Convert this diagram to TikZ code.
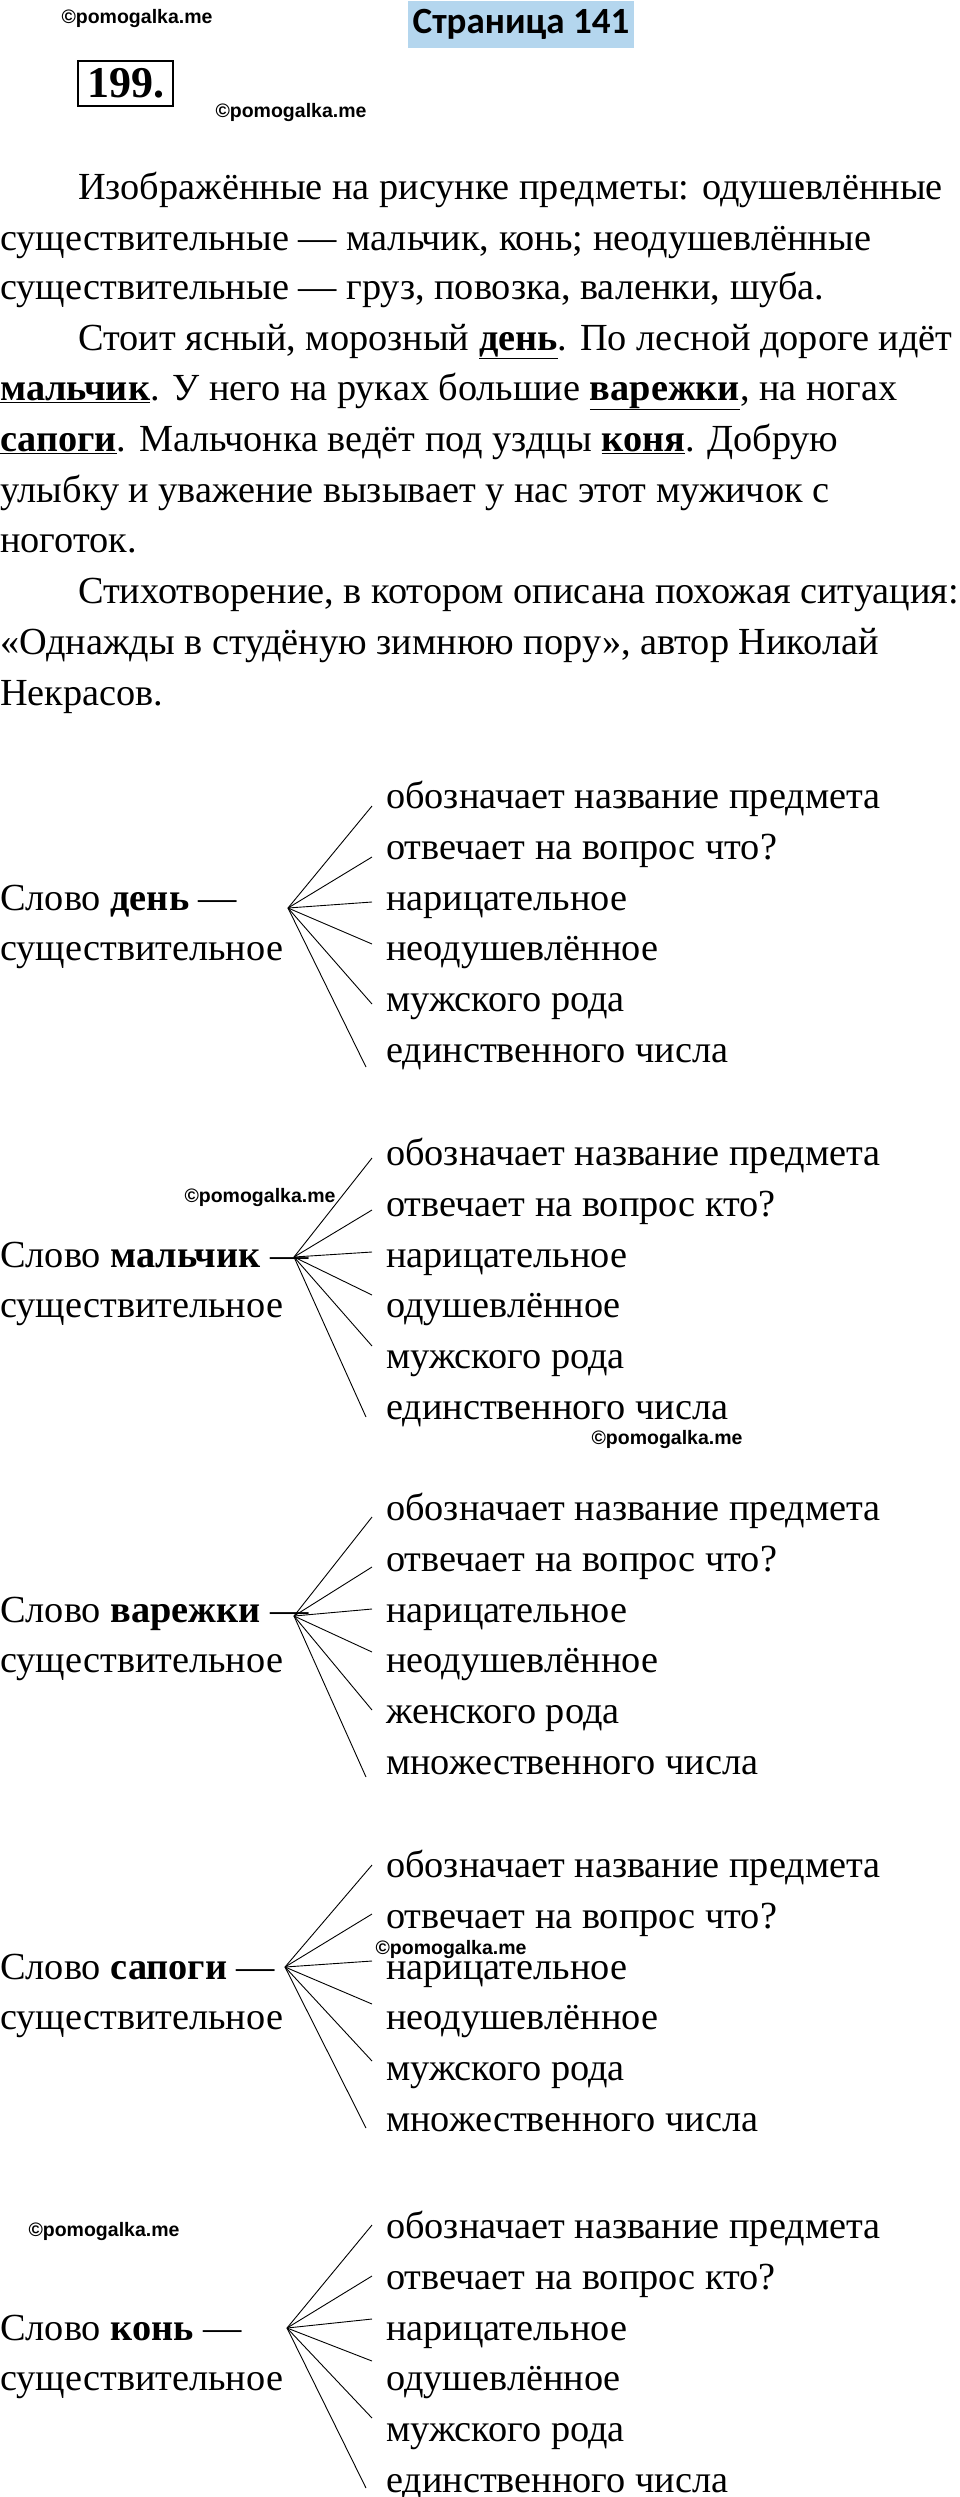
\documentclass[tikz,border=0pt]{standalone}
\usepackage{fontspec}
\setmainfont{Liberation Serif}
\newfontfamily\wm{Liberation Sans}
\newfontfamily\ttl{Carlito}
\definecolor{ttlblue}{HTML}{B4D6EE}
\begin{document}
\begin{tikzpicture}[x=1pt,y=-1pt,
  txt/.style={anchor=base west,inner sep=0pt,font=\fontsize{38.3}{44}\selectfont},
  wmk/.style={anchor=center,inner sep=0pt,font=\wm\bfseries\fontsize{19.5}{22}\selectfont},
  fan/.style={line width=0.9pt}]
\useasboundingbox (0,0) rectangle (960,2497);
\fill[white] (0,0) rectangle (960,2497);
\node[fill=ttlblue,minimum width=226pt,minimum height=47pt,inner sep=0pt,font=\ttl\bfseries\fontsize{37}{42}\selectfont] (title) at (521,24.5) {Страница 141};
\node[wmk] (w1) at (137,19) {©pomogalka.me};
\node[wmk] (w2) at (291,113) {©pomogalka.me};
\node[draw,line width=1.3pt,inner sep=2pt,minimum width=95pt,minimum height=45pt,font=\bfseries\fontsize{44}{50}\selectfont] (num) at (125.5,83.5) {199.};
% body text
\node[txt] (b1) at (78,199) {Изображённые на рисунке предметы: одушевлённые};
\node[txt] (b2) at (0,250) {существительные — мальчик, конь; неодушевлённые};
\node[txt] (b3) at (0,299) {существительные — груз, повозка, валенки, шуба.};
\node[txt] (b4) at (78,350) {Стоит ясный, морозный \underline{\textbf{день}}. По лесной дороге идёт};
\node[txt] (b5) at (0,400) {\underline{\textbf{мальчик}}. У него на руках большие \underline{\textbf{варежки}}, на ногах};
\node[txt] (b6) at (0,451) {\underline{\textbf{сапоги}}. Мальчонка ведёт под уздцы \underline{\textbf{коня}}. Добрую};
\node[txt] (b7) at (0,502) {улыбку и уважение вызывает у нас этот мужичок с};
\node[txt] (b8) at (0,552) {ноготок.};
\node[txt] (b9) at (78,603) {Стихотворение, в котором описана похожая ситуация:};
\node[txt] (b10) at (0,654) {«Однажды в студёную зимнюю пору», автор Николай};
\node[txt] (b11) at (0,705) {Некрасов.};
% diagrams
\foreach \n/\word/\q/\an/\gen/\num/\by/\ox/\oy/\ea/\eb/\ec/\ed/\ee/\ef in {
 1/день/что/неодушевлённое/мужского рода/единственного числа/808/288/908/806/857/902/944/1004/1067,
 2/мальчик/кто/одушевлённое/мужского рода/единственного числа/1165/294/1257/1158/1210/1252/1295/1346/1417,
 3/варежки/что/неодушевлённое/женского рода/множественного числа/1520/294/1616/1517/1567/1609/1652/1710/1777,
 4/сапоги/что/неодушевлённое/мужского рода/множественного числа/1877/285/1967/1865/1914/1961/2004/2061/2128,
 5/конь/кто/одушевлённое/мужского рода/единственного числа/2238/287/2328/2225/2276/2319/2361/2418/2488}{
  \node[txt] (s\n) at (0,\by+102) {Слово \textbf{\word} —};
  \node[txt] (t\n) at (0,\by+152) {существительное};
  \node[txt] (i\n a) at (386,\by) {обозначает название предмета};
  \node[txt] (i\n b) at (386,\by+51) {отвечает на вопрос \q?};
  \node[txt] (i\n c) at (386,\by+102) {нарицательное};
  \node[txt] (i\n d) at (386,\by+152) {\an};
  \node[txt] (i\n e) at (386,\by+203) {\gen};
  \node[txt] (i\n f) at (386,\by+254) {\num};
  \coordinate (o\n) at (\ox,\oy);
  \coordinate (e\n a) at (372,\ea);
  \coordinate (e\n b) at (372,\eb);
  \coordinate (e\n c) at (372,\ec);
  \coordinate (e\n d) at (372,\ed);
  \coordinate (e\n e) at (372,\ee);
  \coordinate (e\n f) at (366,\ef);
  \foreach \k in {a,b,c,d,e,f}{\draw[fan] (o\n) -- (e\n\k);}
}
\node[wmk] (w3) at (260,1197) {©pomogalka.me};
\node[wmk] (w4) at (667,1439) {©pomogalka.me};
\node[wmk] (w5) at (451,1949) {©pomogalka.me};
\node[wmk] (w6) at (104,2231) {©pomogalka.me};
\end{tikzpicture}
\end{document}
